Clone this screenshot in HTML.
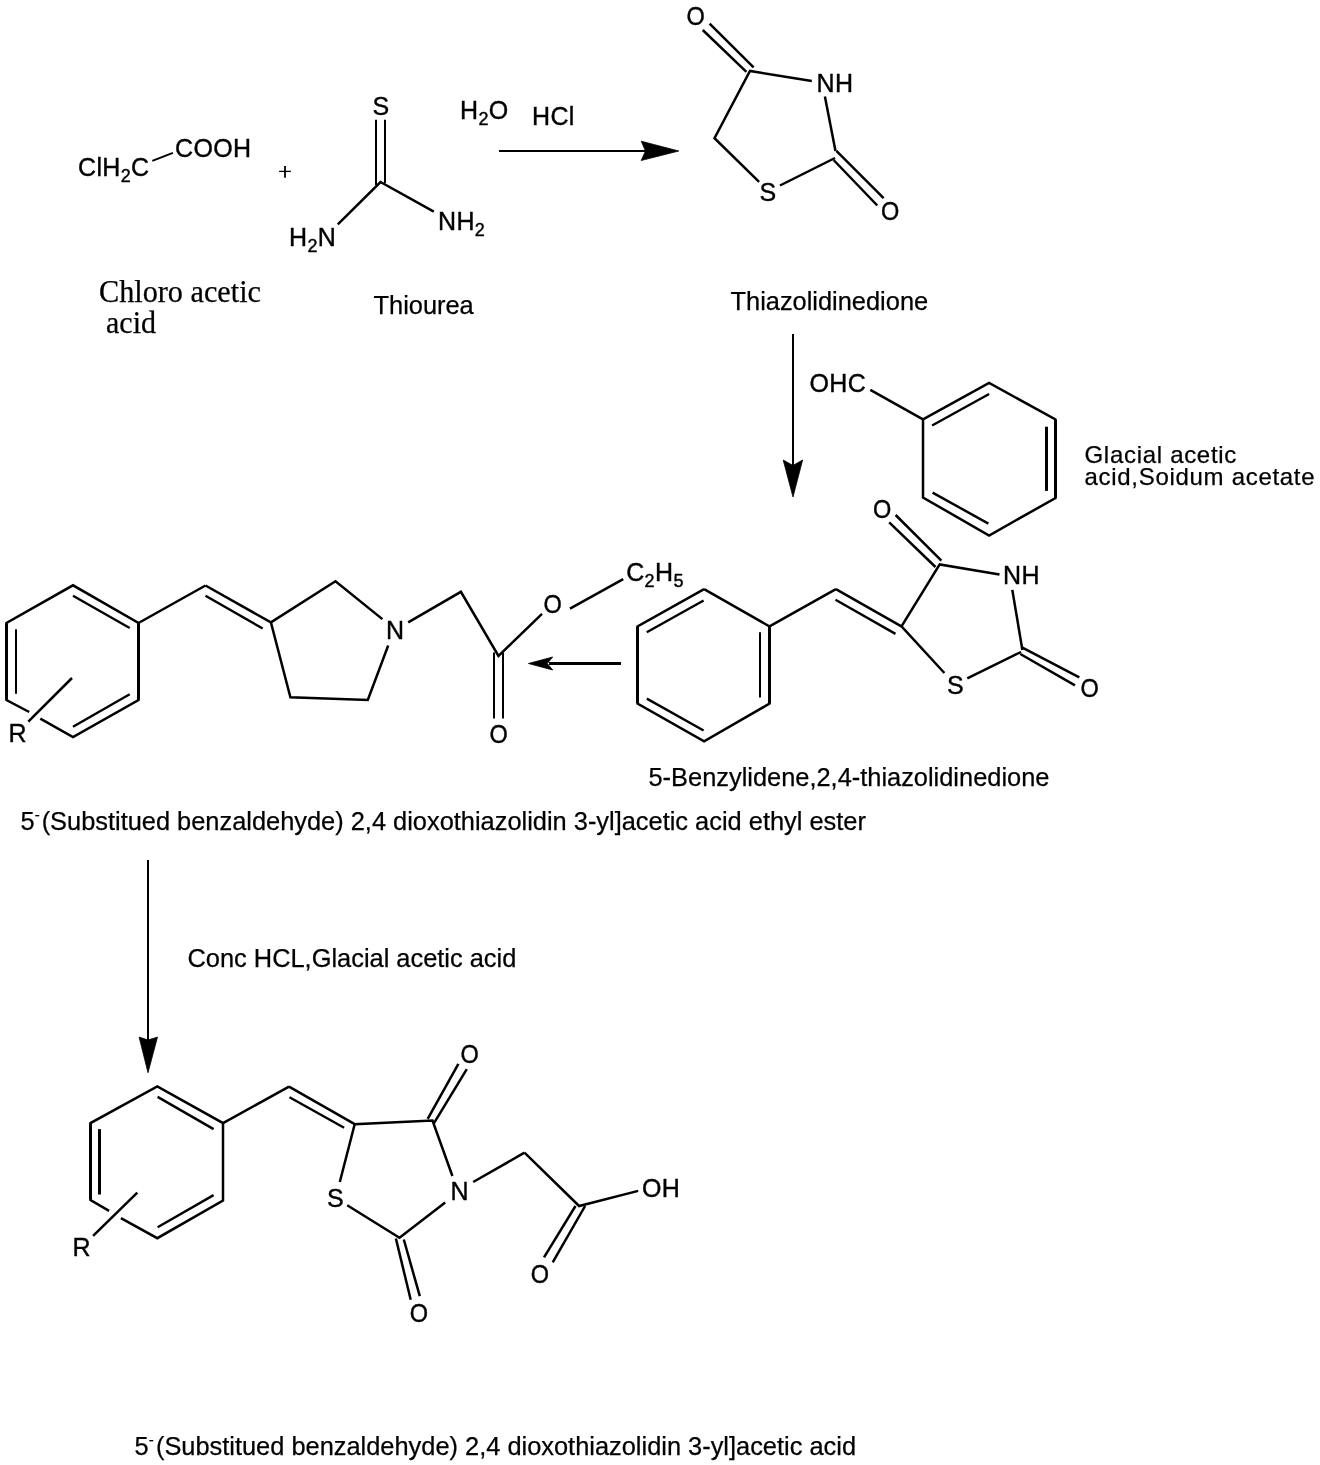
<!DOCTYPE html><html><head><meta charset="utf-8"><title>Reaction scheme</title><style>html,body{margin:0;padding:0;background:#fff;width:1320px;height:1465px;overflow:hidden}svg{display:block;will-change:transform}text{fill:#000;stroke:#000}</style></head><body>
<svg width="1320" height="1465" viewBox="0 0 1320 1465">
<g stroke="#000" fill="none" stroke-linecap="butt" stroke-linejoin="miter">
<line x1="152.3" y1="160.9" x2="172.9" y2="152.9" stroke-width="2"/>
<line x1="279.1" y1="171.4" x2="290.9" y2="171.4" stroke-width="1.3"/>
<line x1="285" y1="166.1" x2="285" y2="177.7" stroke-width="1.8"/>
<line x1="376" y1="119.8" x2="376" y2="185" stroke-width="2"/>
<line x1="385" y1="119.8" x2="385" y2="183" stroke-width="2"/>
<line x1="499" y1="151" x2="648" y2="151" stroke-width="2"/>
<line x1="702.7" y1="30" x2="746.4" y2="71.8" stroke-width="2.5"/>
<line x1="709.6" y1="23.6" x2="753.6" y2="67.3" stroke-width="2.5"/>
<line x1="824.9" y1="96.4" x2="835.5" y2="151" stroke-width="2.5"/>
<line x1="836.4" y1="150.9" x2="883.6" y2="198.2" stroke-width="2.5"/>
<line x1="833.6" y1="160" x2="877.3" y2="205.5" stroke-width="2.5"/>
<line x1="835" y1="158" x2="780" y2="185.5" stroke-width="2.5"/>
<line x1="793" y1="334" x2="793" y2="467" stroke-width="2"/>
<line x1="870.3" y1="389.8" x2="923" y2="419.4" stroke-width="2.5"/>
<line x1="1055.5" y1="420" x2="1055.5" y2="497.5" stroke-width="3"/>
<line x1="932.1" y1="425.5" x2="989.1" y2="394" stroke-width="2.4"/>
<line x1="1046.5" y1="426.7" x2="1046.5" y2="490.9" stroke-width="3"/>
<line x1="932.6" y1="492.6" x2="988.4" y2="523.6" stroke-width="2.4"/>
<line x1="889.2" y1="522.4" x2="935.5" y2="567" stroke-width="2.5"/>
<line x1="895.6" y1="515" x2="941.4" y2="560.6" stroke-width="2.5"/>
<line x1="1012.3" y1="589.9" x2="1022.4" y2="650" stroke-width="2.5"/>
<line x1="1022.4" y1="647.6" x2="1079.3" y2="677.3" stroke-width="2.5"/>
<line x1="1020.3" y1="654" x2="1075" y2="685.3" stroke-width="2.5"/>
<line x1="1021" y1="652" x2="967.3" y2="678.3" stroke-width="2.5"/>
<line x1="835.9" y1="589.1" x2="901.4" y2="626.4" stroke-width="2.5"/>
<line x1="835.5" y1="599.8" x2="895.5" y2="633.9" stroke-width="2.4"/>
<line x1="769.5" y1="627" x2="769.5" y2="703" stroke-width="3"/>
<line x1="637.5" y1="627" x2="637.5" y2="703" stroke-width="3"/>
<line x1="646.8" y1="632.3" x2="703.6" y2="600.5" stroke-width="2.4"/>
<line x1="760" y1="632.3" x2="760" y2="697.5" stroke-width="2"/>
<line x1="646.8" y1="698.6" x2="703.6" y2="730.5" stroke-width="2.4"/>
<line x1="621" y1="663.5" x2="549" y2="663.5" stroke-width="3"/>
<line x1="570" y1="608.6" x2="623.2" y2="579.1" stroke-width="2.5"/>
<line x1="494" y1="652.5" x2="494" y2="718.4" stroke-width="2"/>
<line x1="503" y1="652.5" x2="503" y2="718.4" stroke-width="2"/>
<line x1="205.5" y1="585.5" x2="270.9" y2="622.4" stroke-width="2.5"/>
<line x1="205.5" y1="595.8" x2="262.7" y2="628.5" stroke-width="2.4"/>
<line x1="6.5" y1="623.5" x2="6.5" y2="699.5" stroke-width="3"/>
<line x1="138.5" y1="623.5" x2="138.5" y2="699.5" stroke-width="3"/>
<line x1="73" y1="595.8" x2="129.7" y2="628" stroke-width="2.4"/>
<line x1="16" y1="629.2" x2="16" y2="693.7" stroke-width="2"/>
<line x1="129.7" y1="694.2" x2="73" y2="726.7" stroke-width="2.4"/>
<line x1="72" y1="678" x2="28.3" y2="721.7" stroke-width="2.5"/>
<line x1="148" y1="860" x2="148" y2="1042" stroke-width="2"/>
<line x1="90.5" y1="1123.6" x2="90.5" y2="1199.5" stroke-width="3"/>
<line x1="157.6" y1="1096.9" x2="213.6" y2="1129.1" stroke-width="2.4"/>
<line x1="99.5" y1="1129.1" x2="99.5" y2="1194.5" stroke-width="3"/>
<line x1="213.6" y1="1195.1" x2="157.6" y2="1227.3" stroke-width="2.4"/>
<line x1="137.3" y1="1192.7" x2="93.1" y2="1235.8" stroke-width="2.5"/>
<line x1="289" y1="1086.7" x2="354.7" y2="1124.2" stroke-width="2.5"/>
<line x1="289.5" y1="1097.3" x2="344.1" y2="1127.8" stroke-width="2.4"/>
<line x1="427.7" y1="1118.9" x2="458.4" y2="1063.9" stroke-width="2.5"/>
<line x1="434" y1="1123.1" x2="466.8" y2="1069.2" stroke-width="2.5"/>
<line x1="473.2" y1="1182" x2="524.5" y2="1152.7" stroke-width="2.5"/>
<line x1="395.9" y1="1238.5" x2="410.7" y2="1299.8" stroke-width="2.5"/>
<line x1="403.8" y1="1239.5" x2="419.8" y2="1296.2" stroke-width="2.5"/>
<line x1="575.5" y1="1206" x2="544" y2="1257.3" stroke-width="2.5"/>
<line x1="585.1" y1="1206" x2="552.7" y2="1262.4" stroke-width="2.5"/>
<polyline points="337.8,224.3 380.5,182 433.8,211.6" stroke-width="2.5"/>
<polyline points="811.8,80.9 750,71 714.5,138.2 759.1,181.8" stroke-width="2.5"/>
<polyline points="923,419.4 989.1,383 1055.5,419.4 1055.5,498 989.1,535.5 923,497.5 923,419.4" stroke-width="2.5"/>
<polyline points="999.5,574.4 939.7,564.4 901.5,626.4 944.4,673" stroke-width="2.5"/>
<polyline points="704.1,589.1 769.5,626.4 769.5,703.6 704.1,741.4 637.5,703.6 637.5,626.4 704.1,589.1" stroke-width="2.5"/>
<polyline points="769.5,626.4 835.9,589.1" stroke-width="2.5"/>
<polyline points="408.2,622.4 460.9,591.8 498.5,655.9 542,613.9" stroke-width="2.5"/>
<polyline points="382.4,619.1 335.5,581.3 270.9,622.4 290.4,697.3 367.8,700 388.2,645.5" stroke-width="2.5"/>
<polyline points="29.2,712 6.5,700 6.5,623 73,585.3 138.5,623 138.5,700 73,737 40.3,718.7" stroke-width="2.5"/>
<polyline points="138.5,623 205.5,585.5" stroke-width="2.5"/>
<polyline points="109.1,1210.9 90.5,1200 90.5,1123.1 157.3,1086.4 223,1123.1 223,1200.5 157.3,1238.2 120.9,1218.2" stroke-width="2.5"/>
<polyline points="223,1123.1 289,1086.7" stroke-width="2.5"/>
<polyline points="339.8,1182 354.7,1124.2 432.5,1120.6 452.4,1176" stroke-width="2.5"/>
<polyline points="445.2,1202.5 399.5,1237.8 347.2,1205.2" stroke-width="2.5"/>
<polyline points="524.5,1152.7 579.1,1206 638.2,1190.9" stroke-width="2.5"/>
</g><g fill="#000">
<polygon points="678.8,151 641.2,141.2 645.5,151 641.2,160.5" stroke="#000" stroke-width="0.8" stroke-linejoin="miter" stroke-miterlimit="10"/>
<polygon points="793,497 783.2,460 793,465.5 802.6,460" stroke="#000" stroke-width="0.8" stroke-linejoin="miter" stroke-miterlimit="10"/>
<polygon points="528.4,663.5 552.7,657 547.3,663.5 552.7,670" stroke="#000" stroke-width="0.8" stroke-linejoin="miter" stroke-miterlimit="10"/>
<polygon points="148,1072.7 139.1,1037.1 148,1040 157.5,1037.1" stroke="#000" stroke-width="0.8" stroke-linejoin="miter" stroke-miterlimit="10"/>
</g>
<text x="78" y="175.8" font-size="25" style="font-family:'Liberation Sans', sans-serif" text-anchor="start" letter-spacing="0.35" stroke-width="0.4">ClH<tspan font-size="18" dy="6">2</tspan><tspan dy="-6">C</tspan></text>
<text x="175" y="156.7" font-size="25" style="font-family:'Liberation Sans', sans-serif" text-anchor="start" letter-spacing="0.35" stroke-width="0.4">COOH</text>
<text x="372.5" y="115" font-size="25" style="font-family:'Liberation Sans', sans-serif" text-anchor="start" letter-spacing="0.35" stroke-width="0.4">S</text>
<text x="289" y="245.7" font-size="25" style="font-family:'Liberation Sans', sans-serif" text-anchor="start" letter-spacing="0.35" stroke-width="0.4">H<tspan font-size="18" dy="6">2</tspan><tspan dy="-6">N</tspan></text>
<text x="438" y="229.6" font-size="25" style="font-family:'Liberation Sans', sans-serif" text-anchor="start" letter-spacing="0.35" stroke-width="0.4">NH<tspan font-size="18" dy="6">2</tspan></text>
<text x="460" y="118.8" font-size="25" style="font-family:'Liberation Sans', sans-serif" text-anchor="start" letter-spacing="0.35" stroke-width="0.4">H<tspan font-size="18" dy="6">2</tspan><tspan dy="-6">O</tspan></text>
<text x="532" y="124.5" font-size="25" style="font-family:'Liberation Sans', sans-serif" text-anchor="start" letter-spacing="0.35" stroke-width="0.4">HCl</text>
<text x="686.58" y="25" font-size="25" style="font-family:'Liberation Sans', sans-serif" text-anchor="start" textLength="18.3" lengthAdjust="spacingAndGlyphs" stroke-width="0.4">O</text>
<text x="816.5" y="91.5" font-size="25" style="font-family:'Liberation Sans', sans-serif" text-anchor="start" letter-spacing="0.35" stroke-width="0.4">NH</text>
<text x="759.5" y="200.9" font-size="25" style="font-family:'Liberation Sans', sans-serif" text-anchor="start" letter-spacing="0.35" stroke-width="0.4">S</text>
<text x="881.08" y="220" font-size="25" style="font-family:'Liberation Sans', sans-serif" text-anchor="start" textLength="18.3" lengthAdjust="spacingAndGlyphs" stroke-width="0.4">O</text>
<text x="99" y="302" font-size="31" style="font-family:'Liberation Serif', serif" text-anchor="start" stroke-width="0.25" textLength="162" lengthAdjust="spacingAndGlyphs">Chloro acetic</text>
<text x="106" y="333" font-size="30.5" style="font-family:'Liberation Serif', serif" text-anchor="start" stroke-width="0.25" textLength="50" lengthAdjust="spacingAndGlyphs">acid</text>
<text x="373.5" y="313.9" font-size="25.4" style="font-family:'Liberation Sans', sans-serif" text-anchor="start" stroke-width="0.25">Thiourea</text>
<text x="730.5" y="310" font-size="25.4" style="font-family:'Liberation Sans', sans-serif" text-anchor="start" stroke-width="0.25">Thiazolidinedione</text>
<text x="809.5" y="391.5" font-size="25" style="font-family:'Liberation Sans', sans-serif" text-anchor="start" letter-spacing="0.35" stroke-width="0.4">OHC</text>
<text x="1084.5" y="462.6" font-size="24" style="font-family:'Liberation Sans', sans-serif" text-anchor="start" letter-spacing="0.7" stroke-width="0.25">Glacial acetic</text>
<text x="1084.5" y="484.6" font-size="24" style="font-family:'Liberation Sans', sans-serif" text-anchor="start" letter-spacing="0.7" stroke-width="0.25">acid,Soidum acetate</text>
<text x="873.08" y="518" font-size="25" style="font-family:'Liberation Sans', sans-serif" text-anchor="start" textLength="18.3" lengthAdjust="spacingAndGlyphs" stroke-width="0.4">O</text>
<text x="1003" y="584.4" font-size="25" style="font-family:'Liberation Sans', sans-serif" text-anchor="start" letter-spacing="0.35" stroke-width="0.4">NH</text>
<text x="947" y="694.3" font-size="25" style="font-family:'Liberation Sans', sans-serif" text-anchor="start" letter-spacing="0.35" stroke-width="0.4">S</text>
<text x="1080.58" y="697.2" font-size="25" style="font-family:'Liberation Sans', sans-serif" text-anchor="start" textLength="18.3" lengthAdjust="spacingAndGlyphs" stroke-width="0.4">O</text>
<text x="626.2" y="581.4" font-size="25" style="font-family:'Liberation Sans', sans-serif" text-anchor="start" letter-spacing="0.35" stroke-width="0.4">C<tspan font-size="18" dy="6">2</tspan><tspan dy="-6">H</tspan><tspan font-size="18" dy="6">5</tspan></text>
<text x="543.58" y="612.5" font-size="25" style="font-family:'Liberation Sans', sans-serif" text-anchor="start" textLength="18.3" lengthAdjust="spacingAndGlyphs" stroke-width="0.4">O</text>
<text x="489.58" y="743.2" font-size="25" style="font-family:'Liberation Sans', sans-serif" text-anchor="start" textLength="18.3" lengthAdjust="spacingAndGlyphs" stroke-width="0.4">O</text>
<text x="386" y="639.1" font-size="25" style="font-family:'Liberation Sans', sans-serif" text-anchor="start" letter-spacing="0.35" stroke-width="0.4">N</text>
<text x="8.5" y="741.7" font-size="25" style="font-family:'Liberation Sans', sans-serif" text-anchor="start" letter-spacing="0.35" stroke-width="0.4">R</text>
<text x="648.5" y="785.7" font-size="25.4" style="font-family:'Liberation Sans', sans-serif" text-anchor="start" stroke-width="0.25">5-Benzylidene,2,4-thiazolidinedione</text>
<text x="20.5" y="829.5" font-size="25.4" style="font-family:'Liberation Sans', sans-serif" text-anchor="start" stroke-width="0.25">5<tspan font-size="15" dy="-10">-</tspan><tspan dy="10" dx="2">(Substitued benzaldehyde) 2,4 dioxothiazolidin 3-yl]acetic acid ethyl ester</tspan></text>
<text x="187.5" y="966.7" font-size="25.4" style="font-family:'Liberation Sans', sans-serif" text-anchor="start" stroke-width="0.25">Conc HCL,Glacial acetic acid</text>
<text x="72.5" y="1255.5" font-size="25" style="font-family:'Liberation Sans', sans-serif" text-anchor="start" letter-spacing="0.35" stroke-width="0.4">R</text>
<text x="460.58" y="1062.6" font-size="25" style="font-family:'Liberation Sans', sans-serif" text-anchor="start" textLength="18.3" lengthAdjust="spacingAndGlyphs" stroke-width="0.4">O</text>
<text x="450.5" y="1200.4" font-size="25" style="font-family:'Liberation Sans', sans-serif" text-anchor="start" letter-spacing="0.35" stroke-width="0.4">N</text>
<text x="327" y="1207.4" font-size="25" style="font-family:'Liberation Sans', sans-serif" text-anchor="start" letter-spacing="0.35" stroke-width="0.4">S</text>
<text x="409.78" y="1322" font-size="25" style="font-family:'Liberation Sans', sans-serif" text-anchor="start" textLength="18.3" lengthAdjust="spacingAndGlyphs" stroke-width="0.4">O</text>
<text x="642" y="1196.9" font-size="25" style="font-family:'Liberation Sans', sans-serif" text-anchor="start" letter-spacing="0.35" stroke-width="0.4">OH</text>
<text x="530.78" y="1282.5" font-size="25" style="font-family:'Liberation Sans', sans-serif" text-anchor="start" textLength="18.3" lengthAdjust="spacingAndGlyphs" stroke-width="0.4">O</text>
<text x="134.5" y="1455" font-size="25.4" style="font-family:'Liberation Sans', sans-serif" text-anchor="start" stroke-width="0.25">5<tspan font-size="15" dy="-10">-</tspan><tspan dy="10" dx="2.3">(Substitued benzaldehyde) 2,4 dioxothiazolidin 3-yl]acetic acid</tspan></text>
</svg></body></html>
